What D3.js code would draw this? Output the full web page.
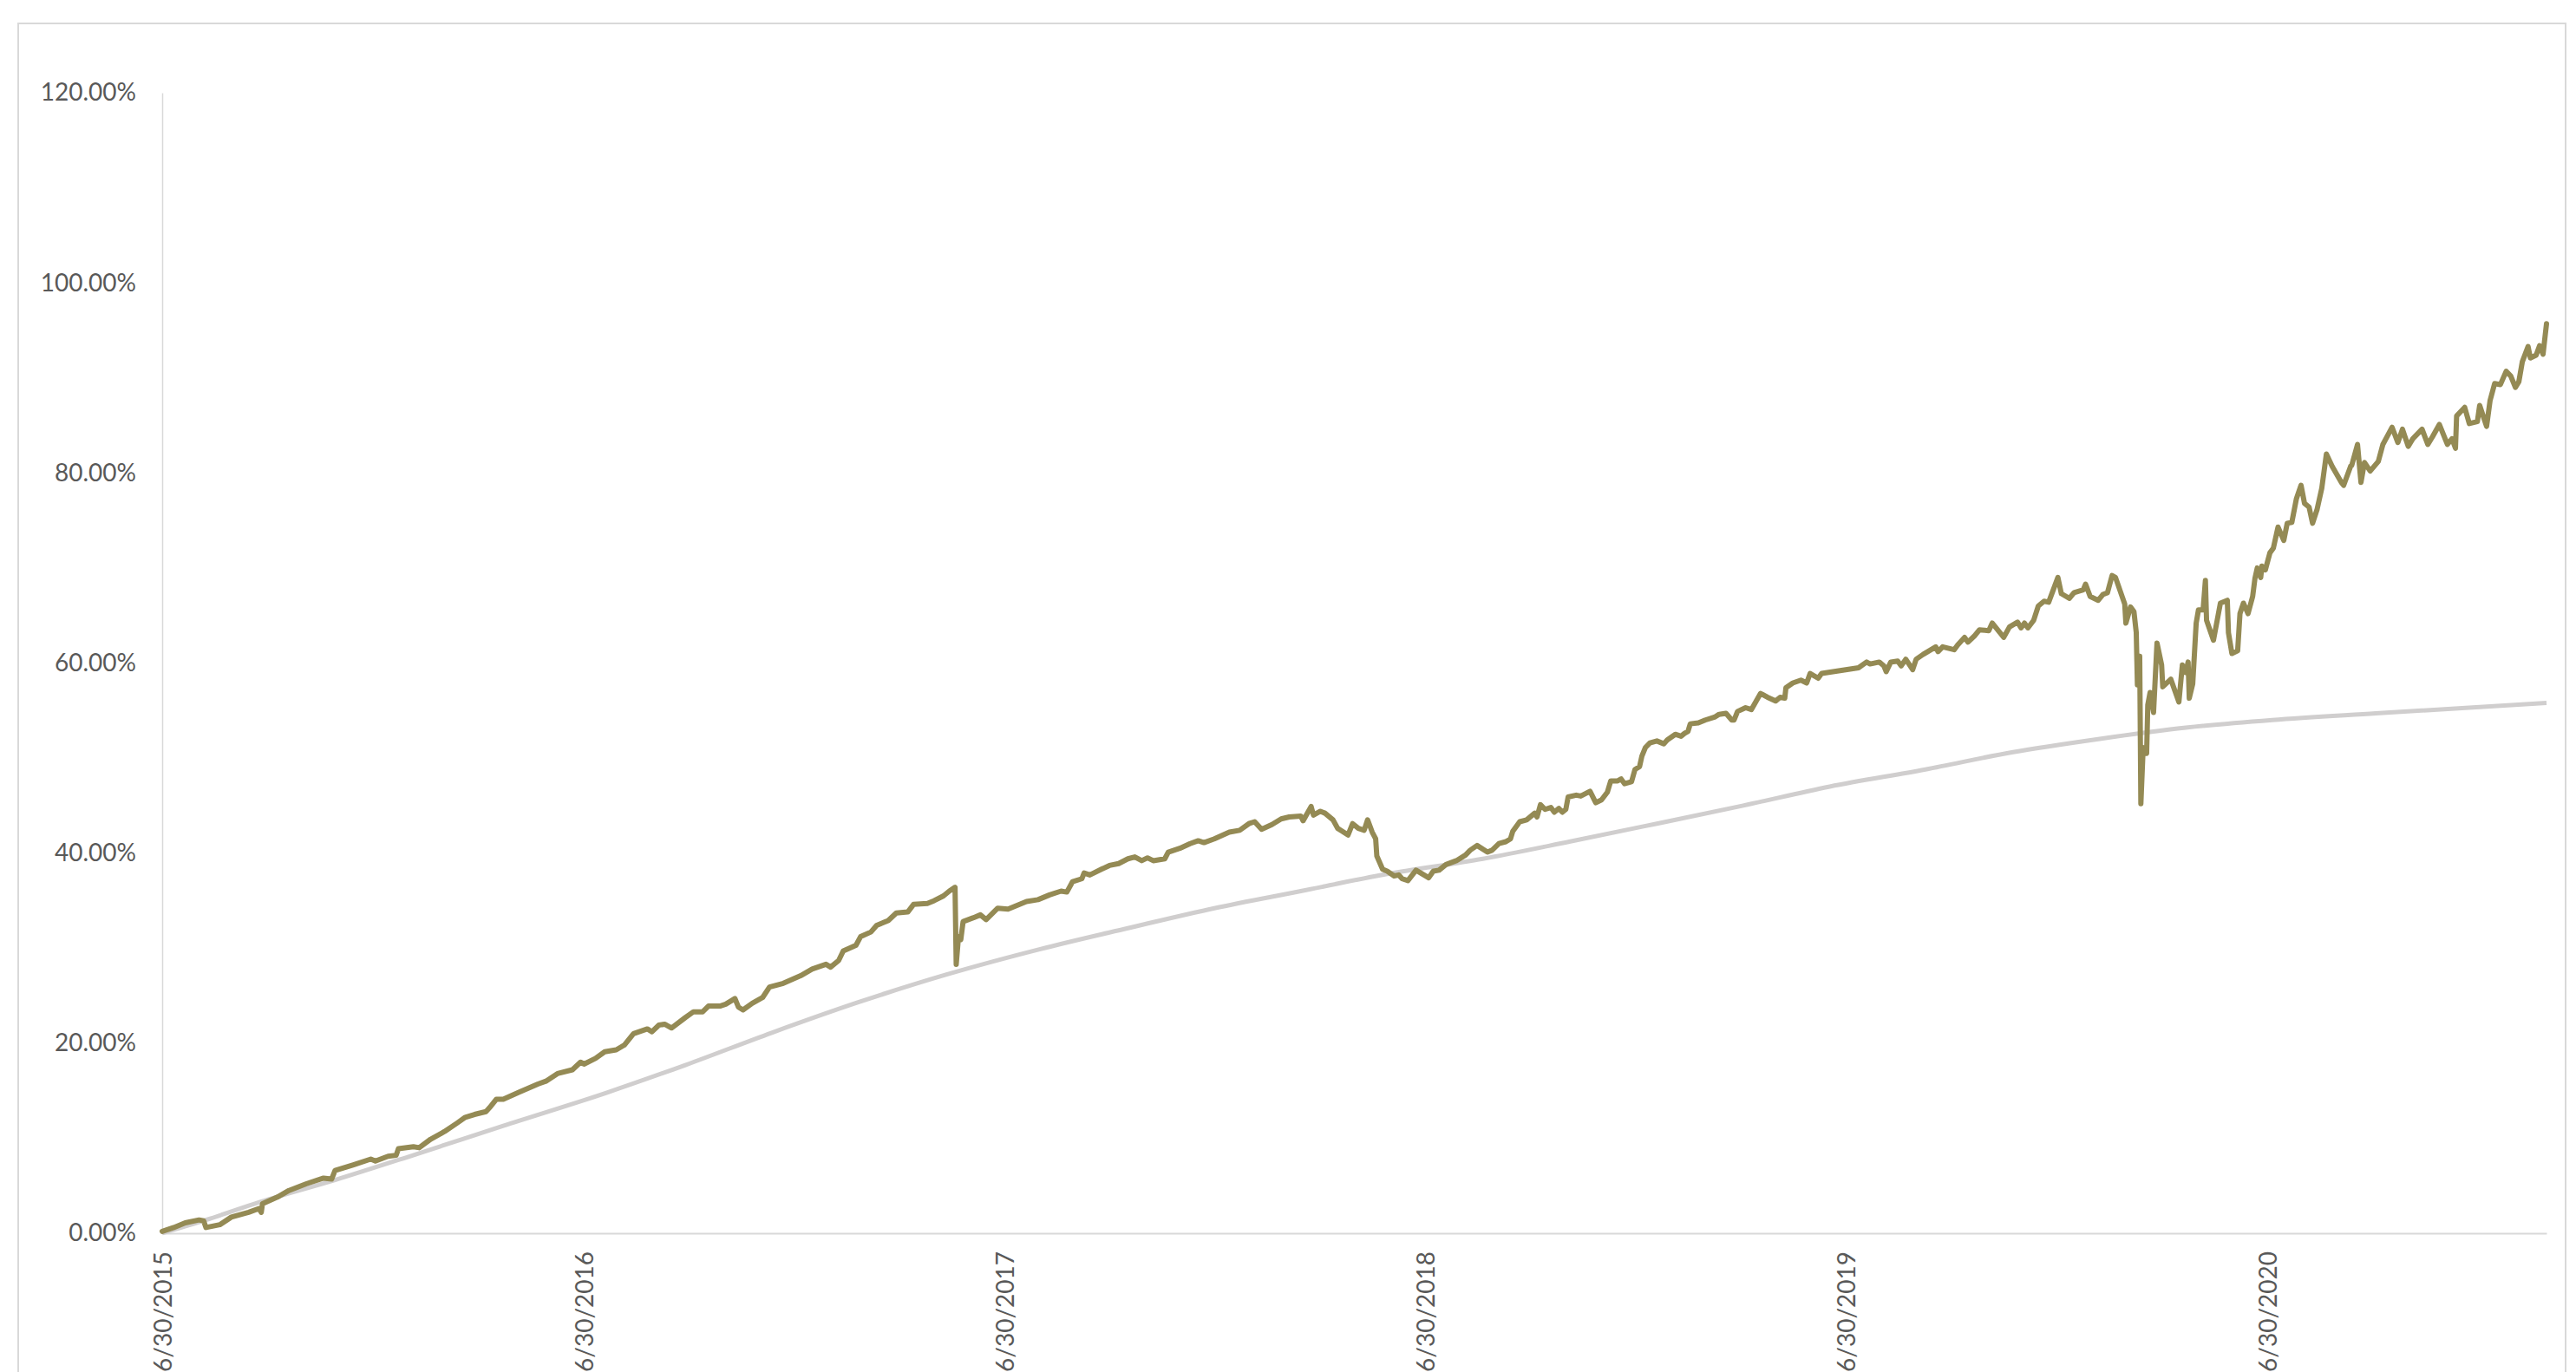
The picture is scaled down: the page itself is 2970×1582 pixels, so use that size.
<!DOCTYPE html>
<html>
<head>
<meta charset="utf-8">
<script src="https://cdn.jsdelivr.net/npm/d3@7"></script>
<style>
    html, body { margin: 0; padding: 0; background: #fff; }
    #chart { width: 2970px; height: 1582px; overflow: hidden; }
    .axis text { font-family: Lato, "Open Sans", sans-serif; font-size: 28px; fill: #595959; }
    .axis .domain { stroke: #d9d9d9; }
</style>
</head>
<body>
<div id="chart"></div>
<script>

// x axis ticks, one per year
const xTickDates = ["2015-06-30", "2016-06-30", "2017-06-30", "2018-06-30", "2019-06-30", "2020-06-30"];

// y axis ticks (percent)
const yTicks = [0, 20, 40, 60, 80, 100, 120];

// gold series, cumulative return in percent
const goldDates = [
    "2015-06-30", "2015-07-10", "2015-07-20", "2015-08-01", "2015-08-05", "2015-08-07", "2015-08-19", "2015-08-29",
    "2015-09-13", "2015-09-22", "2015-09-24", "2015-09-25", "2015-10-08", "2015-10-18", "2015-11-02", "2015-11-17",
    "2015-11-24", "2015-11-27", "2015-12-13", "2015-12-28", "2016-01-01", "2016-01-12", "2016-01-19", "2016-01-21",
    "2016-02-03", "2016-02-08", "2016-02-18", "2016-03-01", "2016-03-12", "2016-03-19", "2016-03-27", "2016-04-06",
    "2016-04-09", "2016-04-15", "2016-04-21", "2016-05-04", "2016-05-21", "2016-05-28", "2016-06-07", "2016-06-20",
    "2016-06-27", "2016-06-30", "2016-07-10", "2016-07-18", "2016-07-28", "2016-08-04", "2016-08-12", "2016-08-24",
    "2016-08-28", "2016-09-03", "2016-09-08", "2016-09-14", "2016-09-26", "2016-10-03", "2016-10-11", "2016-10-16",
    "2016-10-26", "2016-10-31", "2016-11-08", "2016-11-11", "2016-11-15", "2016-11-23", "2016-12-02", "2016-12-08",
    "2016-12-20", "2017-01-04", "2017-01-14", "2017-01-26", "2017-01-30", "2017-02-06", "2017-02-10", "2017-02-21",
    "2017-02-25", "2017-03-06", "2017-03-11", "2017-03-21", "2017-03-28", "2017-04-07", "2017-04-12", "2017-04-24",
    "2017-04-30", "2017-05-08", "2017-05-13", "2017-05-18", "2017-05-19", "2017-05-21", "2017-05-23", "2017-05-25",
    "2017-06-03", "2017-06-09", "2017-06-14", "2017-06-24", "2017-07-03", "2017-07-19", "2017-07-29", "2017-08-08",
    "2017-08-18", "2017-08-23", "2017-08-28", "2017-09-05", "2017-09-07", "2017-09-12", "2017-09-22", "2017-09-29",
    "2017-10-07", "2017-10-15", "2017-10-21", "2017-10-27", "2017-11-01", "2017-11-06", "2017-11-16", "2017-11-19",
    "2017-11-29", "2017-12-08", "2017-12-15", "2017-12-20", "2017-12-29", "2018-01-11", "2018-01-20", "2018-01-28",
    "2018-02-02", "2018-02-08", "2018-02-17", "2018-02-25", "2018-03-04", "2018-03-14", "2018-03-16", "2018-03-23",
    "2018-03-25", "2018-03-31", "2018-04-04", "2018-04-11", "2018-04-15", "2018-04-19", "2018-04-24", "2018-04-28",
    "2018-05-03", "2018-05-08", "2018-05-11", "2018-05-15", "2018-05-18", "2018-05-19", "2018-05-24", "2018-05-28",
    "2018-06-03", "2018-06-07", "2018-06-10", "2018-06-15", "2018-06-22", "2018-07-03", "2018-07-07", "2018-07-12",
    "2018-07-18", "2018-07-27", "2018-08-04", "2018-08-08", "2018-08-14", "2018-08-23", "2018-08-27", "2018-09-02",
    "2018-09-08", "2018-09-12", "2018-09-14", "2018-09-20", "2018-09-26", "2018-10-03", "2018-10-05", "2018-10-08",
    "2018-10-12", "2018-10-17", "2018-10-20", "2018-10-24", "2018-10-27", "2018-10-30", "2018-11-01", "2018-11-08",
    "2018-11-12", "2018-11-20", "2018-11-25", "2018-11-30", "2018-12-05", "2018-12-08", "2018-12-14", "2018-12-17",
    "2018-12-20", "2018-12-26", "2018-12-29", "2019-01-02", "2019-01-04", "2019-01-07", "2019-01-11", "2019-01-17",
    "2019-01-23", "2019-01-26", "2019-02-02", "2019-02-07", "2019-02-10", "2019-02-13", "2019-02-15", "2019-02-22",
    "2019-02-28", "2019-03-08", "2019-03-12", "2019-03-18", "2019-03-23", "2019-03-25", "2019-03-28", "2019-04-04",
    "2019-04-09", "2019-04-17", "2019-04-23", "2019-04-30", "2019-05-04", "2019-05-08", "2019-05-09", "2019-05-15",
    "2019-05-22", "2019-05-27", "2019-05-30", "2019-06-06", "2019-06-09", "2019-07-11", "2019-07-18", "2019-07-21",
    "2019-07-29", "2019-08-02", "2019-08-04", "2019-08-08", "2019-08-14", "2019-08-17", "2019-08-21", "2019-08-27",
    "2019-08-30", "2019-09-05", "2019-09-16", "2019-09-18", "2019-09-22", "2019-10-02", "2019-10-05", "2019-10-11",
    "2019-10-14", "2019-10-20", "2019-10-24", "2019-11-01", "2019-11-04", "2019-11-14", "2019-11-19", "2019-11-26",
    "2019-11-29", "2019-12-02", "2019-12-05", "2019-12-10", "2019-12-14", "2019-12-19", "2019-12-23", "2019-12-31",
    "2020-01-03", "2020-01-10", "2020-01-14", "2020-01-22", "2020-01-24", "2020-01-28", "2020-02-04", "2020-02-08",
    "2020-02-12", "2020-02-16", "2020-02-19", "2020-02-27", "2020-02-28", "2020-03-03", "2020-03-06", "2020-03-08",
    "2020-03-09", "2020-03-11", "2020-03-12", "2020-03-14", "2020-03-17", "2020-03-18", "2020-03-20", "2020-03-23",
    "2020-03-26", "2020-03-30", "2020-03-31", "2020-04-07", "2020-04-14", "2020-04-17", "2020-04-20", "2020-04-22",
    "2020-04-23", "2020-04-26", "2020-04-29", "2020-05-01", "2020-05-05", "2020-05-07", "2020-05-08", "2020-05-14",
    "2020-05-20", "2020-05-26", "2020-05-27", "2020-05-30", "2020-06-04", "2020-06-06", "2020-06-09", "2020-06-13",
    "2020-06-17", "2020-06-19", "2020-06-21", "2020-06-24", "2020-06-25", "2020-06-28", "2020-07-02", "2020-07-05",
    "2020-07-09", "2020-07-14", "2020-07-17", "2020-07-21", "2020-07-25", "2020-07-29", "2020-08-01", "2020-08-05",
    "2020-08-08", "2020-08-12", "2020-08-16", "2020-08-20", "2020-08-25", "2020-09-02", "2020-09-04", "2020-09-10",
    "2020-09-11", "2020-09-16", "2020-09-19", "2020-09-22", "2020-09-27", "2020-10-04", "2020-10-08", "2020-10-16",
    "2020-10-21", "2020-10-25", "2020-10-30", "2020-11-03", "2020-11-11", "2020-11-16", "2020-11-20", "2020-11-26",
    "2020-12-03", "2020-12-07", "2020-12-10", "2020-12-11", "2020-12-18", "2020-12-22", "2020-12-29", "2020-12-31",
    "2021-01-06", "2021-01-09", "2021-01-13", "2021-01-18", "2021-01-23", "2021-01-27", "2021-01-31", "2021-02-03",
    "2021-02-06", "2021-02-11", "2021-02-13", "2021-02-18", "2021-02-21", "2021-02-24", "2021-02-27"
];

const goldValues = [
    0.2, 0.6, 1.1, 1.4, 1.3, 0.6, 0.9, 1.7,
    2.2, 2.6, 2.2, 3.1, 3.8, 4.5, 5.2, 5.8,
    5.7, 6.6, 7.2, 7.8, 7.6, 8.1, 8.2, 8.9,
    9.1, 9.0, 9.9, 10.7, 11.6, 12.2, 12.5, 12.8,
    13.2, 14.1, 14.1, 14.8, 15.7, 16.0, 16.8, 17.2,
    18.0, 17.8, 18.4, 19.1, 19.3, 19.8, 21.0, 21.5,
    21.2, 21.9, 22.0, 21.6, 22.7, 23.3, 23.3, 23.9,
    23.9, 24.1, 24.7, 23.8, 23.5, 24.2, 24.8, 25.9,
    26.3, 27.1, 27.8, 28.3, 28.0, 28.7, 29.7, 30.3,
    31.2, 31.7, 32.4, 32.9, 33.7, 33.8, 34.6, 34.7,
    35.0, 35.5, 36.0, 36.4, 28.3, 31.2, 30.9, 32.8,
    33.2, 33.5, 33.0, 34.2, 34.1, 34.9, 35.1, 35.6,
    36.0, 35.9, 37.0, 37.3, 37.9, 37.7, 38.3, 38.7,
    38.9, 39.4, 39.6, 39.2, 39.5, 39.2, 39.4, 40.1,
    40.5, 41.0, 41.3, 41.1, 41.5, 42.2, 42.4, 43.1,
    43.3, 42.5, 43.0, 43.6, 43.8, 43.9, 43.4, 44.9,
    44.0, 44.4, 44.2, 43.5, 42.6, 42.3, 41.9, 43.1,
    42.6, 42.4, 43.5, 42.2, 41.5, 39.7, 38.3, 38.1,
    37.6, 37.7, 37.3, 37.1, 38.2, 37.4, 38.1, 38.2,
    38.8, 39.2, 39.8, 40.3, 40.8, 40.1, 40.3, 41.0,
    41.2, 41.5, 42.3, 43.3, 43.5, 44.2, 43.8, 45.1,
    44.6, 44.8, 44.3, 44.7, 44.3, 44.6, 45.9, 46.1,
    46.0, 46.5, 45.3, 45.6, 46.4, 47.6, 47.6, 47.8,
    47.3, 47.5, 48.8, 49.1, 50.2, 51.1, 51.6, 51.8,
    51.5, 51.9, 52.5, 52.3, 52.6, 52.8, 53.6, 53.7,
    54.0, 54.3, 54.6, 54.7, 54.0, 54.0, 54.9, 55.3,
    55.1, 56.8, 56.4, 56.0, 56.4, 56.3, 57.4, 57.9,
    58.2, 57.9, 58.9, 58.4, 58.9, 59.5, 60.1, 59.9,
    60.1, 59.7, 59.1, 60.1, 60.2, 59.7, 60.4, 59.3,
    60.4, 60.9, 61.7, 61.2, 61.7, 61.4, 61.9, 62.7,
    62.2, 62.9, 63.5, 63.4, 64.2, 62.7, 63.8, 64.3,
    63.7, 64.2, 63.7, 64.5, 66.0, 66.5, 66.4, 69.0,
    67.3, 66.8, 67.4, 67.7, 68.3, 67.0, 66.6, 67.2,
    67.4, 69.2, 69.0, 66.2, 64.2, 65.9, 65.4, 63.2,
    57.7, 60.7, 45.2, 51.1, 50.5, 55.6, 56.9, 54.8,
    62.1, 59.8, 57.5, 58.3, 55.9, 59.8, 59.0, 60.1,
    56.3, 57.8, 64.2, 65.6, 65.6, 68.7, 64.5, 62.4,
    66.3, 66.6, 63.2, 61.0, 61.3, 65.2, 66.3, 65.2,
    67.0, 68.9, 70.0, 69.0, 70.2, 69.8, 71.6, 72.1,
    74.3, 72.9, 74.7, 74.8, 77.3, 78.7, 76.8, 76.4,
    74.7, 76.2, 78.4, 82.0, 80.7, 79.0, 78.7, 80.7,
    80.8, 83.0, 79.0, 81.1, 80.2, 81.2, 83.0, 84.8,
    83.2, 84.6, 82.8, 83.6, 84.6, 83.0, 83.8, 85.1,
    83.0, 83.6, 82.6, 86.0, 86.9, 85.2, 85.4, 87.1,
    84.9, 87.6, 89.4, 89.3, 90.7, 90.2, 89.0, 89.6,
    91.7, 93.3, 92.1, 92.4, 93.4, 92.5, 95.7
];

// grey benchmark series, cumulative return in percent
const grayDates = [
    "2015-06-30", "2015-08-07", "2015-09-23", "2015-11-27", "2016-02-05", "2016-04-21", "2016-07-20",
    "2016-09-26", "2016-12-10", "2017-02-23", "2017-05-10", "2017-07-31", "2017-10-15", "2017-12-29",
    "2018-03-14", "2018-05-28", "2018-08-19", "2018-11-02", "2019-01-17", "2019-04-02", "2019-06-16",
    "2019-09-07", "2019-11-21", "2020-02-04", "2020-04-20", "2020-07-04", "2020-10-02", "2021-02-27"
];

const grayValues = [
    0.0, 1.4, 3.3, 5.6, 8.3, 11.3, 14.8,
    17.7, 21.1, 24.3, 27.2, 29.9, 32.1, 34.2,
    36.0, 37.8, 39.4, 41.2, 43.1, 45.0, 47.0,
    48.8, 50.6, 52.0, 53.2, 54.0, 54.7, 55.8
];


class makeLineChart {

    constructor(opts) {

        this.element = opts.element;
        this.parseDate = d3.timeParse("%Y-%m-%d");

        this.update();
    }

    _setDimensions() {
        // define width, height and margin

        this.outerWidth = 2970;
        this.outerHeight = 1582;

        this.margin = {
            top: 107,
            right: 34,
            bottom: 160,
            left: 187
        };

        this.width = this.outerWidth - this.margin.left - this.margin.right;
        this.height = this.outerHeight - this.margin.top - this.margin.bottom;
    }

    update() {
        this._setDimensions();
        this.draw();
    }

    _series(dates, values) {
        return dates.map((d, i) => {
            return { date: this.parseDate(d), value: values[i] };
        });
    }

    draw() {

        let gold = this._series(goldDates, goldValues);
        let gray = this._series(grayDates, grayValues);

        this.element.innerHTML = "";

        this.svg = d3.select(this.element).append("svg")
            .attr("width", this.outerWidth)
            .attr("height", this.outerHeight);

        //Chart frame, bottom edge runs off the page like in the original
        this.svg.append("rect")
            .attr("x", 21)
            .attr("y", 27)
            .attr("width", 2937)
            .attr("height", 1700)
            .attr("fill", "none")
            .attr("stroke", "#d9d9d9")
            .attr("stroke-width", 2);

        this.plot = this.svg.append("g")
            .attr("transform", `translate(${this.margin.left},${this.margin.top})`)
            .attr("class", "chart-g");

        this.x = d3.scaleTime()
            .domain([gold[0].date, gold[gold.length - 1].date])
            .range([0, this.width]);

        this.y = d3.scaleLinear()
            .domain([0, 120])
            .range([this.height, 0]);

        // y axis
        this.plot.append("g")
            .attr("class", "axis y-axis")
            .call(d3.axisLeft(this.y)
                .tickValues(yTicks)
                .tickSize(0)
                .tickSizeOuter(0)
                .tickPadding(30)
                .tickFormat(d => d.toFixed(2) + "%"))
            .select(".domain")
            .attr("stroke-width", 1.5);

        // x axis, labels turned on their side
        let xAxis = this.plot.append("g")
            .attr("class", "axis x-axis")
            .attr("transform", `translate(0,${this.height})`)
            .call(d3.axisBottom(this.x)
                .tickValues(xTickDates.map(this.parseDate))
                .tickSize(0)
                .tickSizeOuter(0)
                .tickFormat(d3.timeFormat("%-m/%-d/%Y")));

        xAxis.select(".domain").attr("stroke-width", 2);

        xAxis.selectAll("text")
            .attr("transform", "rotate(-90)")
            .attr("x", -21)
            .attr("y", 0)
            .attr("dy", "0.36em")
            .attr("text-anchor", "end");

        let line = d3.line()
            .x(d => this.x(d.date))
            .y(d => this.y(d.value));

        this.plot.append("path")
            .datum(gray)
            .attr("class", "line-gray")
            .attr("fill", "none")
            .attr("stroke", "#d0cece")
            .attr("stroke-width", 5)
            .attr("d", line.curve(d3.curveMonotoneX));

        this.plot.append("path")
            .datum(gold)
            .attr("class", "line-gold")
            .attr("fill", "none")
            .attr("stroke", "#948a54")
            .attr("stroke-width", 6)
            .attr("stroke-linejoin", "round")
            .attr("stroke-linecap", "round")
            .attr("d", line.curve(d3.curveLinear));
    }
}

new makeLineChart({ element: document.getElementById("chart") });

</script>
</body>
</html>
